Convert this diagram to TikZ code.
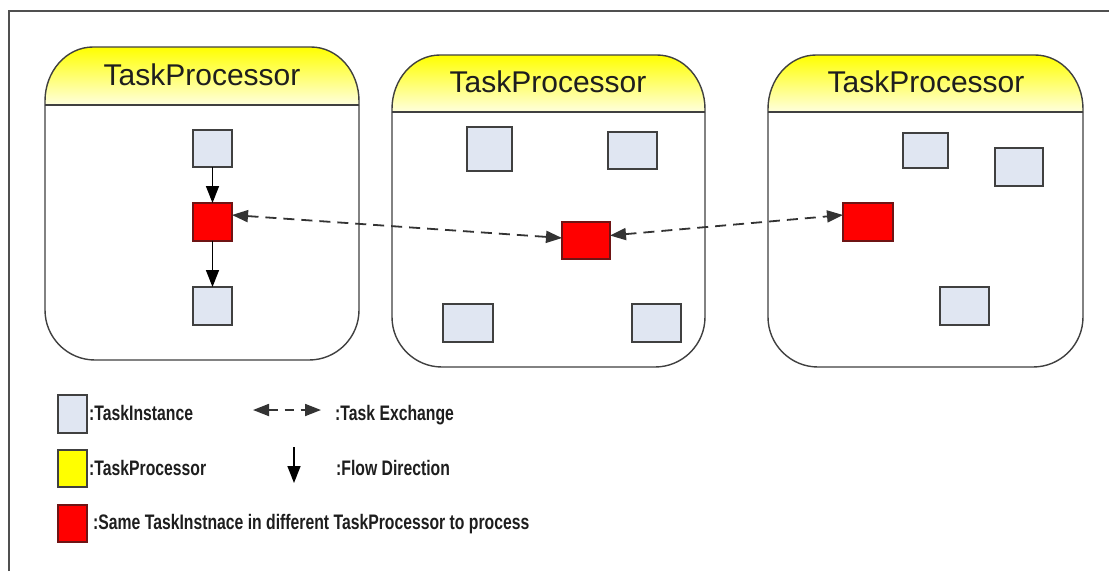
\documentclass[tikz,border=0pt]{standalone}
\usepackage{fontspec}
\setmainfont{Liberation Sans}
\newfontfamily\legendfont[FakeStretch=0.75]{Liberation Sans}
\usetikzlibrary{arrows.meta}

\definecolor{instfill}{RGB}{224,230,242}
\definecolor{boxedge}{RGB}{64,64,64}
\definecolor{redfill}{RGB}{255,0,0}
\definecolor{rededge}{RGB}{110,20,20}
\definecolor{framegray}{RGB}{80,80,80}
\definecolor{hdrtop}{RGB}{255,255,0}
\definecolor{hdrbottom}{RGB}{255,255,222}
\definecolor{inkgray}{RGB}{30,30,30}

\tikzset{
  instbox/.style={draw=boxedge, line width=1.3pt, fill=instfill, inner sep=0pt, outer sep=0pt},
  samebox/.style={draw=rededge, line width=1.3pt, fill=redfill, inner sep=0pt, outer sep=0pt},
  procbox/.style={draw=boxedge, line width=1.4pt},
  title/.style={font=\fontsize{30pt}{30pt}\selectfont, text=inkgray, anchor=base, inner sep=0pt},
  legtext/.style={font=\legendfont\bfseries\fontsize{21pt}{21pt}\selectfont, text=inkgray, anchor=base west, inner sep=0pt},
  flow/.style={line width=1.5pt, -{Triangle[length=17pt,width=13pt]}},
  exchange/.style={line width=1.8pt, draw=black!80, dash pattern=on 11pt off 7pt,
    {Triangle[length=16pt,width=12pt]}-{Triangle[length=16pt,width=12pt]}},
}

% processor: left, right, top, header line, bottom
% header corners: quarter ellipses 48 wide, 54 high; body corners: quarter circles of radius 50
\newcommand\headerpath[4]{(#1,#4) -- (#1,#3+54)
  .. controls (#1,#3+24.2) and (#1+21.5,#3) .. (#1+48,#3)
  -- (#2-48,#3)
  .. controls (#2-21.5,#3) and (#2,#3+24.2) .. (#2,#3+54) -- (#2,#4)}
\newcommand\bodypath[4]{(#1,#3) -- (#1,#4-50)
  .. controls (#1,#4-22.4) and (#1+22.4,#4) .. (#1+50,#4)
  -- (#2-50,#4)
  .. controls (#2-22.4,#4) and (#2,#4-22.4) .. (#2,#4-50) -- (#2,#3)}
\newcommand\drawprocessor[5]{%
  \fill[white] \bodypath{#1}{#2}{#4}{#5};
  \shade[top color=hdrtop, bottom color=hdrbottom] \headerpath{#1}{#2}{#3}{#4};
  \draw[procbox] \headerpath{#1}{#2}{#3}{#4};
  \draw[procbox] \bodypath{#1}{#2}{#4}{#5};
  \draw[procbox] (#1,#4) -- (#2,#4);
}

\begin{document}
\begin{tikzpicture}[x=1pt, y=-1pt]
\useasboundingbox (0,0) rectangle (1109,571);
\fill[white] (0,0) rectangle (1109,571);

% outer frame (left and top edges)
\draw[framegray, line width=2pt] (9,571) -- (9,11) -- (1109,11);

% three processors
\drawprocessor{45}{359}{47}{105}{360}
\drawprocessor{392}{705}{55}{112}{367}
\drawprocessor{768}{1083}{55}{112}{367}

\node[title] (t1) at (202,85) {TaskProcessor};
\node[title] (t2) at (548,92) {TaskProcessor};
\node[title] (t3) at (926,92) {TaskProcessor};

% first processor
\node[instbox, minimum width=39pt, minimum height=37pt] (a1) at (212.5,148.5) {};
\node[samebox, minimum width=39pt, minimum height=38pt] (r1) at (212.5,222) {};
\node[instbox, minimum width=39pt, minimum height=38pt] (a2) at (212.5,306) {};

% second processor
\node[instbox, minimum width=45pt, minimum height=44pt] (b1) at (489.5,149) {};
\node[instbox, minimum width=49pt, minimum height=37pt] (b2) at (632.5,150.5) {};
\node[samebox, minimum width=48pt, minimum height=37pt] (r2) at (586,240.5) {};
\node[instbox, minimum width=50pt, minimum height=38pt] (b3) at (468,323) {};
\node[instbox, minimum width=49pt, minimum height=38pt] (b4) at (656.5,323) {};

% third processor
\node[instbox, minimum width=45pt, minimum height=35pt] (c1) at (925.5,150.5) {};
\node[instbox, minimum width=48pt, minimum height=38pt] (c2) at (1019,167) {};
\node[samebox, minimum width=50pt, minimum height=38pt] (r3) at (868,222) {};
\node[instbox, minimum width=49pt, minimum height=38pt] (c3) at (964.5,306) {};

% flow inside the first processor
\draw[flow] (a1.south) -- (r1.north);
\draw[flow] (r1.south) -- (a2.north);

% task exchange between processors
\draw[exchange] ([yshift=7pt]r1.east) -- ([yshift=2.5pt]r2.west);
\draw[exchange] ([yshift=5pt]r2.east) -- ([yshift=7pt]r3.west);

% legend
\node[instbox, minimum width=29pt, minimum height=38pt] (l1) at (72.5,414) {};
\node[draw=boxedge, line width=1.3pt, fill=hdrtop, inner sep=0pt, minimum width=29pt, minimum height=37pt] (l2) at (72.5,468.5) {};
\node[samebox, minimum width=29pt, minimum height=37pt] (l3) at (72.5,523.5) {};

\node[legtext] (lt1) at (89,420) {:TaskInstance};
\node[legtext] (lt2) at (89,475) {:TaskProcessor};
\node[legtext] (lt3) at (93,529) {:Same TaskInstnace in different TaskProcessor to process};

\coordinate (ex1) at (253,410);
\coordinate (ex2) at (321,410);
\draw[exchange, dash pattern=on 9pt off 7pt] (ex1) -- (ex2);
\node[legtext] (lt4) at (335,420) {:Task Exchange};

\coordinate (fl1) at (294,447);
\coordinate (fl2) at (294,483);
\draw[flow] (fl1) -- (fl2);
\node[legtext] (lt5) at (336,475) {:Flow Direction};
\end{tikzpicture}
\end{document}
